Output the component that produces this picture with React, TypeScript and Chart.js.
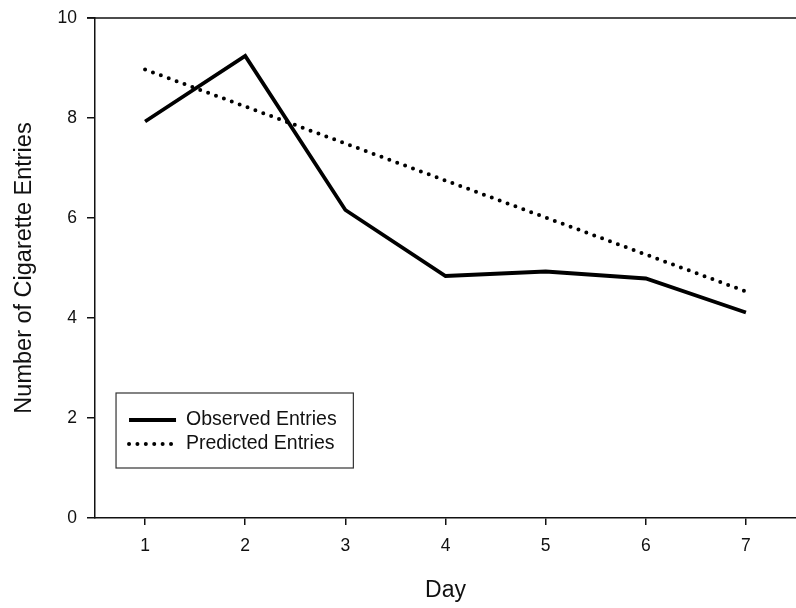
import React, { useEffect, useRef } from "react";
import { Chart, registerables } from "chart.js";

Chart.register(...registerables);

const days = [1, 2, 3, 4, 5, 6, 7];
const observed = [7.93, 9.24, 6.16, 4.84, 4.93, 4.79, 4.11];
const predicted = [8.97, 8.23, 7.49, 6.75, 6.01, 5.27, 4.53];
const yTicks = [0, 2, 4, 6, 8, 10];
const xTitle = "Day";
const yTitle = "Number of Cigarette Entries";

const FONT = "Arial, 'Liberation Sans', sans-serif";
const INK = "#111";

const framePlugin = {
  id: "frame",
  afterDatasetsDraw(chart: any) {
    const { ctx, chartArea } = chart;
    ctx.save();
    ctx.strokeStyle = INK;
    ctx.lineWidth = 1.5;
    ctx.beginPath();
    ctx.moveTo(chartArea.left - 8, chartArea.top);
    ctx.lineTo(chart.width, chartArea.top);
    ctx.stroke();
    ctx.restore();
  },
};

const legendPlugin = {
  id: "boxLegend",
  afterDatasetsDraw(chart: any) {
    const { ctx, scales } = chart;
    const x = scales.x;
    const y = scales.y;
    const left = x.getPixelForValue(0.71);
    const right = x.getPixelForValue(3.08);
    const top = y.getPixelForValue(2.5);
    const bottom = y.getPixelForValue(1.0);
    ctx.save();
    ctx.fillStyle = "#fff";
    ctx.fillRect(left, top, right - left, bottom - top);
    ctx.strokeStyle = "#333";
    ctx.lineWidth = 1.2;
    ctx.strokeRect(left, top, right - left, bottom - top);
    const rows = chart.data.datasets;
    rows.forEach((ds: any, i: number) => {
      const rowY = top + 27 + i * 24;
      ctx.save();
      ctx.strokeStyle = "#000";
      ctx.lineWidth = ds.borderWidth;
      ctx.lineCap = ds.borderCapStyle || "butt";
      ctx.setLineDash(ds.borderDash || []);
      ctx.beginPath();
      ctx.moveTo(left + 13, rowY);
      ctx.lineTo(left + 60, rowY);
      ctx.stroke();
      ctx.restore();
      ctx.fillStyle = INK;
      ctx.font = `19.5px ${FONT}`;
      ctx.textBaseline = "middle";
      ctx.textAlign = "left";
      ctx.fillText(ds.label, left + 70, rowY);
    });
    ctx.restore();
  },
};

export default function App() {
  const ref = useRef<HTMLCanvasElement>(null);
  useEffect(() => {
    document.body.style.margin = "0";
    const chart = new Chart(ref.current!, {
      type: "line",
      data: {
        labels: days,
        datasets: [
          {
            label: "Observed Entries",
            data: days.map((d, i) => ({ x: d, y: observed[i] })),
            borderColor: "#000",
            borderWidth: 3.8,
            pointRadius: 0,
            tension: 0,
            fill: false,
            borderCapStyle: "butt",
            borderJoinStyle: "miter",
          },
          {
            label: "Predicted Entries",
            data: days.map((d, i) => ({ x: d, y: predicted[i] })),
            borderColor: "#000",
            borderWidth: 4,
            borderDash: [0, 8.4],
            borderCapStyle: "round",
            pointRadius: 0,
            tension: 0,
            fill: false,
          },
        ],
      },
      options: {
        animation: false,
        responsive: false,
        maintainAspectRatio: false,
        layout: { padding: { top: 18, right: 0, left: 0, bottom: 0 } },
        plugins: { legend: { display: false }, tooltip: { enabled: false } },
        scales: {
          x: {
            type: "linear",
            min: 0.5,
            max: 7.5,
            afterBuildTicks: (axis: any) => {
              axis.ticks = days.map((v) => ({ value: v }));
            },
            afterFit: (axis: any) => {
              axis.height = 90;
              axis.paddingLeft = 0;
              axis.paddingRight = 0;
            },
            grid: { drawOnChartArea: false, drawTicks: true, tickLength: 7, color: INK, lineWidth: 1.5 },
            border: { display: true, color: INK, width: 1.5 },
            ticks: { color: INK, font: { size: 17.5, family: FONT }, padding: 11, maxRotation: 0 },
            title: { display: true, text: xTitle, color: INK, font: { size: 23, family: FONT }, padding: { top: 0, bottom: 4 } },
          },
          y: {
            min: 0,
            max: 10,
            afterBuildTicks: (axis: any) => {
              axis.ticks = yTicks.map((v) => ({ value: v }));
            },
            afterFit: (axis: any) => {
              axis.width = 95;
              axis.paddingTop = 0;
              axis.paddingBottom = 0;
            },
            grid: { drawOnChartArea: false, drawTicks: true, tickLength: 8, color: INK, lineWidth: 1.5 },
            border: { display: true, color: INK, width: 1.5 },
            ticks: { color: INK, font: { size: 17.5, family: FONT }, padding: 10 },
            title: { display: true, text: yTitle, color: INK, font: { size: 23.5, family: FONT }, padding: { top: 10, bottom: 0 } },
          },
        },
      },
      plugins: [framePlugin, legendPlugin],
    } as any);
    return () => chart.destroy();
  }, []);
  return (
    <div style={{ position: "absolute", left: 0, top: 0, width: 796, height: 608 }}>
      <canvas ref={ref} width={796} height={608} style={{ width: 796, height: 608, display: "block" }} />
    </div>
  );
}
